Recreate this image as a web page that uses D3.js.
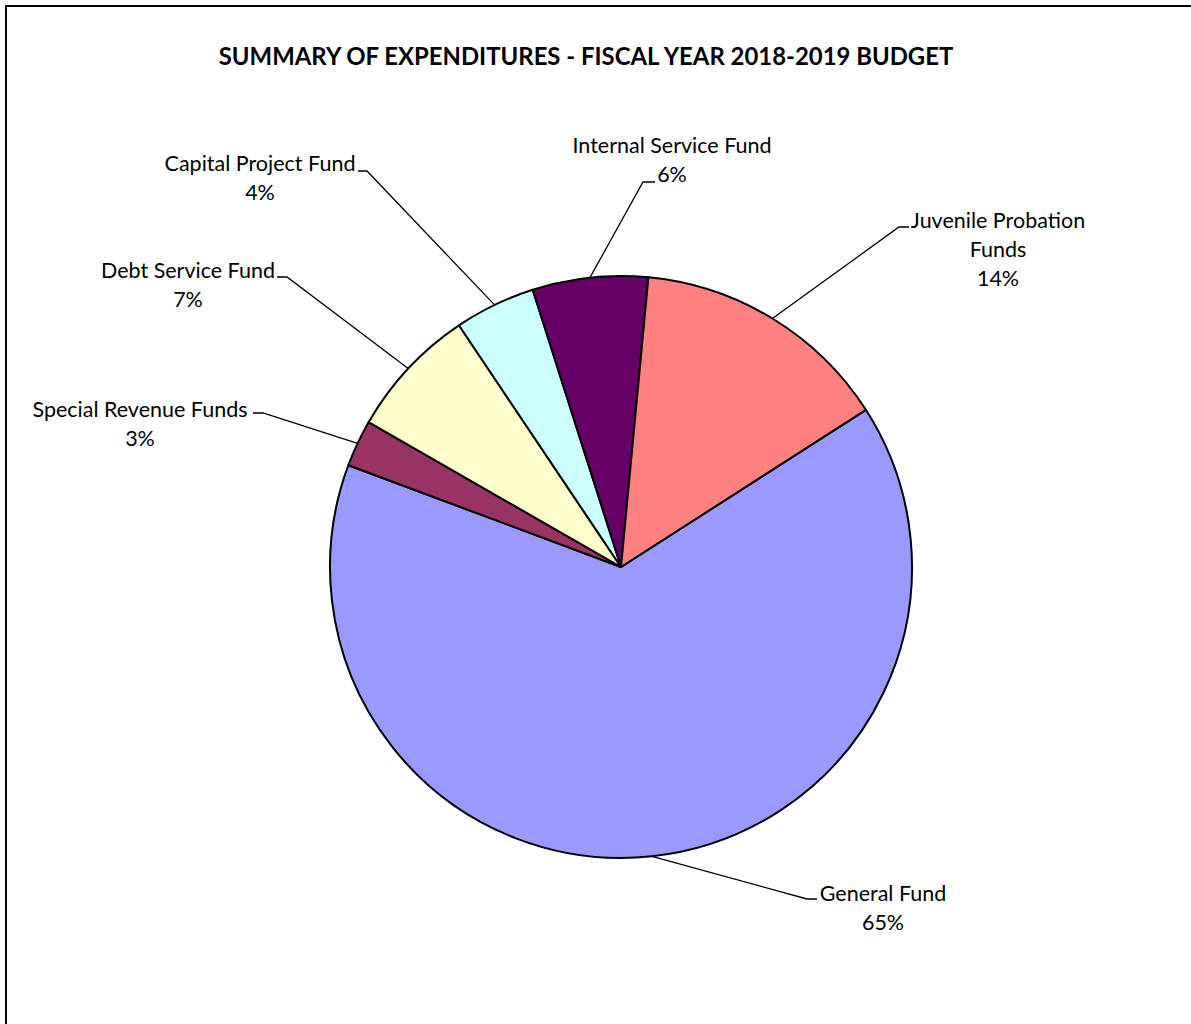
<!DOCTYPE html>
<html>
<head>
<meta charset="utf-8">
<script src="https://cdn.jsdelivr.net/npm/d3@7"></script>
<style>
  html, body { margin: 0; padding: 0; background: #fff; }
  svg { display: block; }
  text { font-family: Lato, "Open Sans", "Liberation Sans", sans-serif; fill: #000; }
</style>
</head>
<body>
<svg id="chart" width="1191" height="1024"></svg>
<script>
// Fund categories, in drawing order (clockwise)
const funds = ["General Fund", "Special Revenue Funds", "Debt Service Fund",
               "Capital Project Fund", "Internal Service Fund", "Juvenile Probation Funds"];
// Share of total expenditures (percent)
const shares = [64.7, 2.6, 7.3, 4.49, 6.4, 14.4];
// Slice fills
const fills = ["#9999FF", "#993366", "#FFFFCC", "#CCFFFF", "#660066", "#FF8080"];
// Label text lines (category names as wrapped on the chart)
const labelLines = [
  ["General Fund"],
  ["Special Revenue Funds"],
  ["Debt Service Fund"],
  ["Capital Project Fund"],
  ["Internal Service Fund"],
  ["Juvenile Probation", "Funds"]
];
const title = "SUMMARY OF EXPENDITURES - FISCAL YEAR 2018-2019 BUDGET";

// Label layout: text centre x, first line centre y, leader elbow point, elbow side
const labelLayout = [
  { x: 883, y: 893, ex: 807, ey: 899, hx: 817 },
  { x: 140, y: 409, ex: 263, ey: 413, hx: 253 },
  { x: 188, y: 270, ex: 287, ey: 277, hx: 277 },
  { x: 260, y: 163, ex: 367, ey: 171, hx: 358 },
  { x: 672, y: 145, ex: 643, ey: 182, hx: 655 },
  { x: 998, y: 220, ex: 899, ey: 227, hx: 909 }
];

const svg = d3.select("#chart");
const W = 1191, H = 1024;
const cx = 621, cy = 567, R = 291;
const fontSize = 21.5, lineH = 29;

// chart frame
svg.append("rect")
  .attr("x", 6).attr("y", 6)
  .attr("width", W + 20).attr("height", H + 20)
  .attr("fill", "#fff").attr("stroke", "#000").attr("stroke-width", 2);

// title
svg.append("text")
  .attr("x", 586).attr("y", 57)
  .attr("dy", "0.35em")
  .attr("text-anchor", "middle")
  .attr("font-weight", "bold")
  .attr("font-size", 23.9)
  .text(title);

const total = d3.sum(shares);
const startDeg = 57.3;
const pie = d3.pie().sort(null).value(d => d)
  .startAngle(startDeg * Math.PI / 180)
  .endAngle(startDeg * Math.PI / 180 + 2 * Math.PI);
const arcs = pie(shares);
const arc = d3.arc().innerRadius(0).outerRadius(R);

const g = svg.append("g").attr("transform", `translate(${cx},${cy})`);
g.selectAll("path.slice")
  .data(arcs)
  .join("path")
  .attr("class", "slice")
  .attr("d", arc)
  .attr("fill", (d, i) => fills[i])
  .attr("stroke", "#000")
  .attr("stroke-width", 2)
  .attr("stroke-linejoin", "round");

// leader lines: from slice mid-angle on the rim to the label elbow
const leaders = svg.append("g");
arcs.forEach((a, i) => {
  const mid = (a.startAngle + a.endAngle) / 2;
  const px = cx + R * Math.sin(mid);
  const py = cy - R * Math.cos(mid);
  const L = labelLayout[i];
  leaders.append("polyline")
    .attr("points", `${px},${py} ${L.ex},${L.ey} ${L.hx},${L.ey}`)
    .attr("fill", "none")
    .attr("stroke", "#000")
    .attr("stroke-width", 1.3);
});

// labels: name lines followed by rounded percentage
const fmtPct = v => Math.round(v / total * 100) + "%";
const labels = svg.append("g");
shares.forEach((v, i) => {
  const L = labelLayout[i];
  const lines = labelLines[i].concat([fmtPct(v)]);
  const t = labels.append("text")
    .attr("text-anchor", "middle")
    .attr("font-size", fontSize);
  lines.forEach((s, k) => {
    t.append("tspan")
      .attr("x", L.x)
      .attr("y", L.y + k * lineH)
      .attr("dy", "0.35em")
      .text(s);
  });
});
</script>
</body>
</html>
